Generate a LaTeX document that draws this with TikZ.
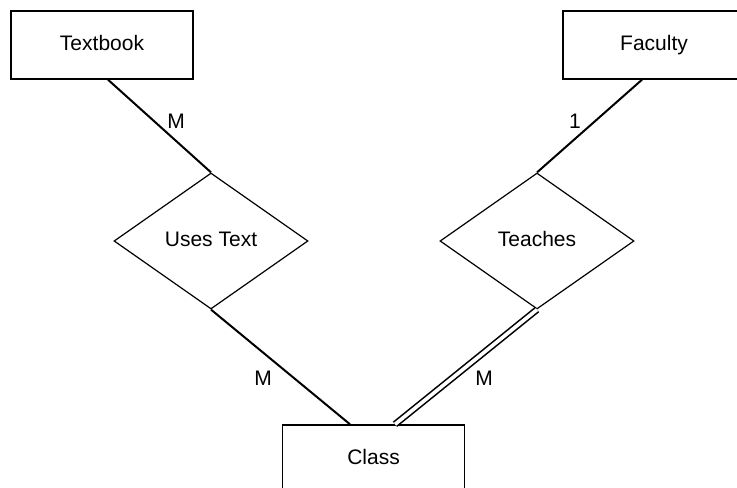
\documentclass[tikz,border=0pt]{standalone}
\usepackage{fontspec}
\setmainfont{Liberation Sans}
\usetikzlibrary{shapes.geometric}

\begin{document}
\begin{tikzpicture}[x=0.5pt,y=0.5pt,font=\fontsize{10.5}{12.6}\selectfont,
  entity/.style={draw,line width=0.7pt,minimum width=91pt,minimum height=34pt,inner sep=0pt,text height=7.5pt,text depth=2pt},
  relation/.style={draw,diamond,line width=0.6pt,minimum width=97pt,minimum height=68pt,inner sep=0pt,text height=7.5pt,text depth=2pt},
  link/.style={line width=1pt},
  total/.style={line width=0.8pt,double,double distance=1.8pt},
  card/.style={inner sep=0pt}]
\useasboundingbox (0,0) rectangle (737,487);
\node[entity] (textbook) at (102,442) {Textbook};
\node[entity] (faculty) at (654,442) {Faculty};
\node[relation] (uses) at (211,246) {Uses Text};
\node[relation] (teaches) at (537,246) {Teaches};
\node[entity] (class) at (373.5,28) {Class};
\draw[link] ([xshift=3pt]textbook.south) -- (uses.north);
\draw[link] ([xshift=-6pt]faculty.south) -- (teaches.north);
\draw[link] (uses.south) -- ([xshift=-11.75pt]class.north);
\draw[total] (teaches.south) -- ([xshift=10.75pt]class.north);
\node[card] (cardtb) at (176,366) {M};
\node[card] (cardfa) at (575,366) {1};
\node[card] (carduc) at (263,109) {M};
\node[card] (cardtc) at (484,109) {M};
\end{tikzpicture}
\end{document}
